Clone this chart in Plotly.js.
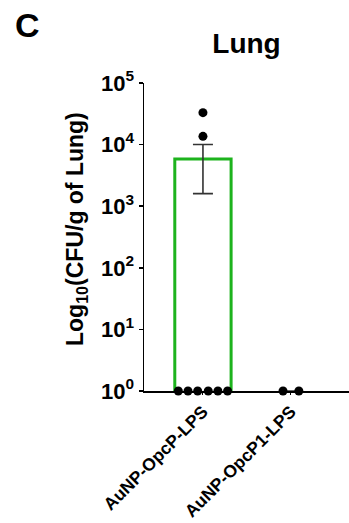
<!DOCTYPE html>
<html>
<head>
<meta charset="utf-8">
<script src="https://cdn.plot.ly/plotly-3.0.1.min.js"></script>
<style>html,body{margin:0;padding:0;background:#fff;}#chart{width:349px;height:523px;}</style>
</head>
<body>
<div id="chart"></div>
<script>
// Data
var categories = ["AuNP-OpcP-LPS", "AuNP-OpcP1-LPS"];
var groupMeans = [5830, 1];
var groupSEM = [4230, 0];
var pointGroup = [0, 0, 0, 0, 0, 0, 0, 0, 1, 1];
var pointValues = [33000, 13600, 1, 1, 1, 1, 1, 1, 1, 1];
var pointJitter = [0, 0, -0.28, -0.17, -0.06, 0.06, 0.17, 0.28, -0.09, 0.09];
var yTickVals = [1, 10, 100, 1000, 10000, 100000];
var yTickText = ["10<sup>0</sup>", "10<sup>1</sup>", "10<sup>2</sup>", "10<sup>3</sup>", "10<sup>4</sup>", "10<sup>5</sup>"];

var FONT = "Liberation Sans, Arial, Helvetica, sans-serif";
var catIdx = categories.map(function (c, i) { return i; });

var barTrace = {
  type: "bar",
  x: catIdx,
  y: groupMeans,
  width: 0.64,
  marker: {
    color: "rgba(255,255,255,0)",
    line: { color: groupMeans.map(function (m) { return m > 1 ? "#1db31d" : "rgba(0,0,0,0)"; }), width: 3 }
  },
  error_y: { type: "data", array: groupSEM, visible: true, color: "#333", thickness: 1.6, width: 10 },
  hoverinfo: "skip",
  cliponaxis: false
};

var pointsTrace = {
  type: "scatter",
  mode: "markers",
  x: pointGroup.map(function (g, i) { return g + pointJitter[i]; }),
  y: pointValues,
  marker: { color: "#000", size: 9 },
  cliponaxis: false,
  hoverinfo: "skip"
};

var layout = {
  width: 349,
  height: 523,
  margin: { l: 144, r: 0, t: 83, b: 132 },
  paper_bgcolor: "#fff",
  plot_bgcolor: "rgba(0,0,0,0)",
  showlegend: false,
  font: { family: FONT, color: "#000", weight: 700 },
  title: {
    text: "Lung",
    font: { family: FONT, size: 28, weight: 700, color: "#000" },
    x: 0.5, xanchor: "center", xref: "paper",
    y: 1 - 43 / 523, yanchor: "middle", yref: "container"
  },
  xaxis: {
    range: [-0.67, 1.66],
    tickvals: catIdx,
    ticktext: categories,
    tickangle: -45,
    ticks: "outside", ticklen: 2, tickwidth: 1, tickcolor: "#000",
    showline: true, linecolor: "#000", linewidth: 1.5,
    showgrid: false, zeroline: false,
    tickfont: { family: FONT, size: 17.5, weight: 700, color: "#000" },
    fixedrange: true
  },
  yaxis: {
    type: "log",
    range: [0, 5],
    tickvals: yTickVals,
    ticktext: yTickText,
    ticks: "outside", ticklen: 4, tickwidth: 1.5, tickcolor: "#000",
    showline: true, linecolor: "#000", linewidth: 1.5,
    showgrid: false, zeroline: false,
    tickfont: { family: FONT, size: 22, weight: 700, color: "#000" },
    fixedrange: true
  },
  annotations: [
    { text: "C", xref: "paper", yref: "paper", x: (27 - 144) / 205, y: 1 + (83 - 25) / 308,
      xanchor: "center", yanchor: "middle", showarrow: false,
      font: { family: FONT, size: 34, weight: 700, color: "#000" } },
    { text: "Log<sub>10</sub>(CFU/g of Lung)", xref: "paper", yref: "paper",
      x: (76 - 144) / 205, y: (391 - 229) / 308, xanchor: "center", yanchor: "middle",
      textangle: -90, showarrow: false,
      font: { family: FONT, size: 23, weight: 700, color: "#000" } }
  ]
};

Plotly.newPlot("chart", [barTrace, pointsTrace], layout, { displayModeBar: false, staticPlot: true });
</script>
</body>
</html>
